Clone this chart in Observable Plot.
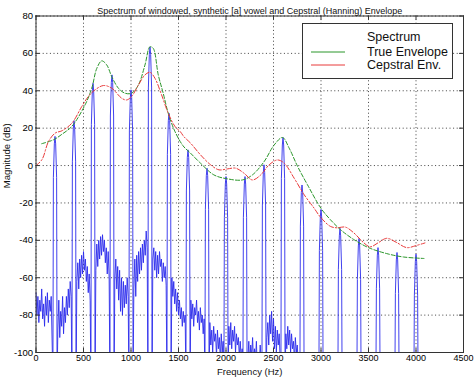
<!DOCTYPE html>
<html><head><meta charset="utf-8">
<script src="https://cdn.jsdelivr.net/npm/d3@7"></script>
<script src="https://cdn.jsdelivr.net/npm/@observablehq/plot@0.6"></script>
<style>
body{margin:0;background:#fff;}
#chart{width:474px;height:377px;}
</style></head><body><div id="chart"></div>
<script>
// ---------- data ----------
const titleText = "Spectrum of windowed, synthetic [a] vowel and Cepstral (Hanning) Envelope";
const xLabel = "Frequency (Hz)";
const yLabel = "Magnitude (dB)";
const xTicks = [0,500,1000,1500,2000,2500,3000,3500,4000,4500];
const yTicks = [-100,-80,-60,-40,-20,0,20,40,60,80];
const legendLabels = ["Spectrum","True Envelope","Cepstral Env."];

// harmonic peaks of the spectrum (F0 = 200 Hz)
const harmonicHz = [200,400,600,800,1000,1200,1400,1600,1800,2000,2200,2400,2600,2800,3000,3200,3400,3600,3800,4000];
const harmonicDb = [15.6,24,44,48.5,40.5,63.5,28,8.4,-1.4,-5.9,-5.9,0.4,15,-10.4,-23.5,-33.6,-39,-43.9,-46.5,-47.4];

// main-lobe shape around each harmonic: offset (Hz) and drop below peak (dB); null = deep null
const lobeOffsetHz = [-22,-17,-7,0,7,17,22];
const lobeDropDb = [null,22,4,0,4,22,null];
const nullDb = -115;

// noise floor between harmonics, sampled every 10 Hz from its start
const floorStepHz = 10;
const floorStartHz = [0,230,430,630,830,1030,1230,1430,1630,1830,2030,2230,2430,2630,2830,3030,3230,3430,3630,3830,4030];
const floorDb = [
  [-68,-80,-70,-84,-72,-78,-66,-82,-74,-86,-70,-80,-68,-84,-72,-78,-70],
  [-88,-72,-92,-78,-86,-70,-90,-76,-84,-70,-80,-66,-76,-62,-70],
  [-62,-52,-66,-50,-60,-48,-58,-46,-56,-50,-62,-54,-68,-58,-72],
  [-56,-42,-54,-40,-50,-38,-48,-37,-46,-40,-52,-44,-58,-46,-60],
  [-60,-50,-66,-54,-72,-56,-78,-60,-80,-62,-76,-64,-74,-60,-70],
  [-66,-50,-70,-48,-62,-46,-58,-44,-56,-42,-52,-40,-48,-35,-44],
  [-50,-44,-56,-46,-60,-48,-58,-46,-54,-50,-62,-52,-60,-54,-64],
  [-60,-70,-62,-74,-66,-78,-68,-80,-72,-82,-76,-86,-78,-84,-80],
  [-72,-82,-74,-86,-76,-80,-72,-84,-78,-88,-76,-84,-80,-90,-82],
  [-84,-96,-88,-100,-86,-94,-90,-102,-88,-98,-92,-104,-90,-100,-94],
  [-86,-96,-84,-98,-88,-94,-86,-100,-90,-96,-92,-102,-94,-104,-98],
  [-104,-94,-108,-96,-102,-92,-106,-98,-104,-94,-110,-100,-106,-96,-104],
  [-92,-84,-96,-80,-90,-78,-94,-82,-98,-86,-100,-88,-96,-90,-104],
  [-90,-98,-86,-96,-88,-100,-90,-98,-94,-104,-92,-100,-96,-106,-100],
  [-112,-118,-110,-116,-113,-119,-111,-117,-114,-120,-112,-116,-110,-118,-115],
  [-113,-117,-111,-119,-112,-116,-114,-118,-110,-117,-113,-119,-112,-116,-114],
  [-114,-118,-112,-116,-111,-119,-113,-117,-115,-120,-112,-118,-114,-116,-113],
  [-115,-119,-113,-117,-112,-118,-114,-120,-116,-118,-113,-117,-115,-119,-114],
  [-116,-120,-114,-118,-113,-119,-115,-121,-117,-119,-114,-118,-116,-120,-115],
  [-117,-121,-115,-119,-114,-120,-116,-122,-118,-120,-115,-119,-117,-121,-116],
  [-118,-122,-116,-120,-117,-121,-119]
];

// true envelope (green)
const trueEnvHz = [60,185,280,378,517,587,640,692,745,797,867,937,1007,1077,1147,1199,1234,1287,1339,1392,1462,1549,1627,1732,1873,2014,2173,2278,2401,2507,2595,2665,2754,2859,3000,3098,3203,3343,3500,3692,3867,4084];
const trueEnvDb = [11.7,13.8,17,21,32.5,41.4,52,56,53.8,47.6,41.4,38.7,38.7,43,53.8,63.5,62.7,48.5,38.7,28,18.3,10.5,6.6,1.25,-5,-7.1,-7.7,-5,2.1,11,15,9.3,-0.5,-10.4,-22.9,-28.9,-34.2,-39.5,-43.9,-47.1,-48.9,-49.7];

// cepstral envelope (red)
const cepEnvHz = [0,63,133,203,273,378,482,552,622,710,797,902,955,1007,1077,1147,1199,1252,1322,1392,1462,1521,1556,1627,1732,1838,1926,2014,2102,2190,2278,2366,2454,2542,2613,2718,2824,2929,2993,3098,3168,3255,3343,3448,3517,3605,3692,3797,3902,4007,4094];
const cepEnvDb = [0,3.2,13,17.4,18.6,22.7,31.6,37,40.5,42.8,41.4,36,35.1,37,43,48.5,49.9,46.7,37.8,28,21,18,15.5,12,5.7,0.4,-2.3,-1.8,-1.4,-4.1,-7.7,-5,0.4,3.0,1.25,-6.8,-15.7,-22.9,-27.5,-32.5,-33.3,-32.9,-35.9,-41.2,-43.5,-41.2,-38.9,-41.2,-43.9,-42.7,-41.4];

// ---------- build tables ----------
const spectrum = [];
floorDb.forEach((seg, i) => {
  seg.forEach((v, k) => spectrum.push({f: floorStartHz[i] + k*floorStepHz, db: v}));
  if (i < harmonicHz.length) {
    lobeOffsetHz.forEach((o, j) => spectrum.push({
      f: harmonicHz[i] + o,
      db: lobeDropDb[j] === null ? nullDb : harmonicDb[i] - lobeDropDb[j]
    }));
  }
});
const trueEnv = trueEnvHz.map((f,i)=>({f, db: trueEnvDb[i]}));
const cepEnv = cepEnvHz.map((f,i)=>({f, db: cepEnvDb[i]}));

const W = 474, H = 377, mL = 35.5, mR = 11, mT = 15.5, mB = 25;
const pw = W - mL - mR, ph = H - mT - mB;
const font = "'Liberation Sans', Arial, Helvetica, sans-serif";
const blue = "#2b2bec", green = "#2a962a", red = "#e83a3a";

const plot = Plot.plot({
  width: W, height: H,
  marginLeft: mL, marginRight: mR, marginTop: mT, marginBottom: mB,
  style: {fontFamily: font, fontSize: "9px", background: "#fff", color: "#000", overflow: "visible"},
  x: {domain: [0, 4500], label: null},
  y: {domain: [-100, 80], label: null},
  marks: [
    Plot.gridX(xTicks, {stroke: "#000", strokeOpacity: 0.75, strokeDasharray: "1,2.6"}),
    Plot.gridY(yTicks, {stroke: "#000", strokeOpacity: 0.75, strokeDasharray: "1,2.6"}),
    Plot.line(spectrum, {x: "f", y: "db", stroke: blue, strokeWidth: 0.9, clip: true}),
    Plot.line(trueEnv, {x: "f", y: "db", stroke: green, strokeWidth: 1, strokeDasharray: "4,2", curve: "catmull-rom", clip: true}),
    Plot.line(cepEnv, {x: "f", y: "db", stroke: red, strokeWidth: 1, strokeDasharray: "5,2,1.5,2", curve: "catmull-rom", clip: true}),
    Plot.frame({stroke: "#333"}),
    Plot.ruleX(xTicks, {stroke: "#333", insetTop: ph - 4}),
    Plot.ruleX(xTicks, {stroke: "#333", insetBottom: ph - 4}),
    Plot.ruleY(yTicks, {stroke: "#333", insetRight: pw - 4}),
    Plot.ruleY(yTicks, {stroke: "#333", insetLeft: pw - 4}),
    Plot.axisX(xTicks, {tickSize: 0, tickPadding: 2, fontSize: 9, tickFormat: d => String(d), label: null}),
    Plot.axisY(yTicks, {tickSize: 0, tickPadding: 3, fontSize: 9.5, tickFormat: d => String(d), label: null}),
    Plot.text([titleText], {frameAnchor: "top", dy: -8, fontSize: 9, fill: "#111"}),
    Plot.text([xLabel], {frameAnchor: "bottom", dy: 19, lineAnchor: "middle", fontSize: 9.5, fill: "#111"}),
    Plot.text([yLabel], {frameAnchor: "left", rotate: -90, dx: -29, dy: 4, fontSize: 9.5, fill: "#111"})
  ]
});
document.getElementById("chart").appendChild(plot);

// legend box drawn inside the plot area
const svg = d3.select(plot);
const lg = svg.append("g").attr("font-family", font).attr("font-size", 12.5).attr("text-anchor", "start");
lg.append("rect").attr("x", 302.5).attr("y", 23.5).attr("width", 150).attr("height", 55)
  .attr("fill", "#fff").attr("stroke", "#333");
const rowsY = [37, 52, 65];
const rowColors = [null, green, red];
legendLabels.forEach((t, i) => {
  if (rowColors[i]) lg.append("line").attr("x1", 311).attr("x2", 345).attr("y1", rowsY[i]).attr("y2", rowsY[i])
    .attr("stroke", rowColors[i]).attr("stroke-width", 1);
  lg.append("text").attr("x", 367).attr("y", rowsY[i]).attr("dy", "0.35em").attr("text-anchor", "start")
    .attr("fill", "#111").text(t);
});
</script></body></html>
